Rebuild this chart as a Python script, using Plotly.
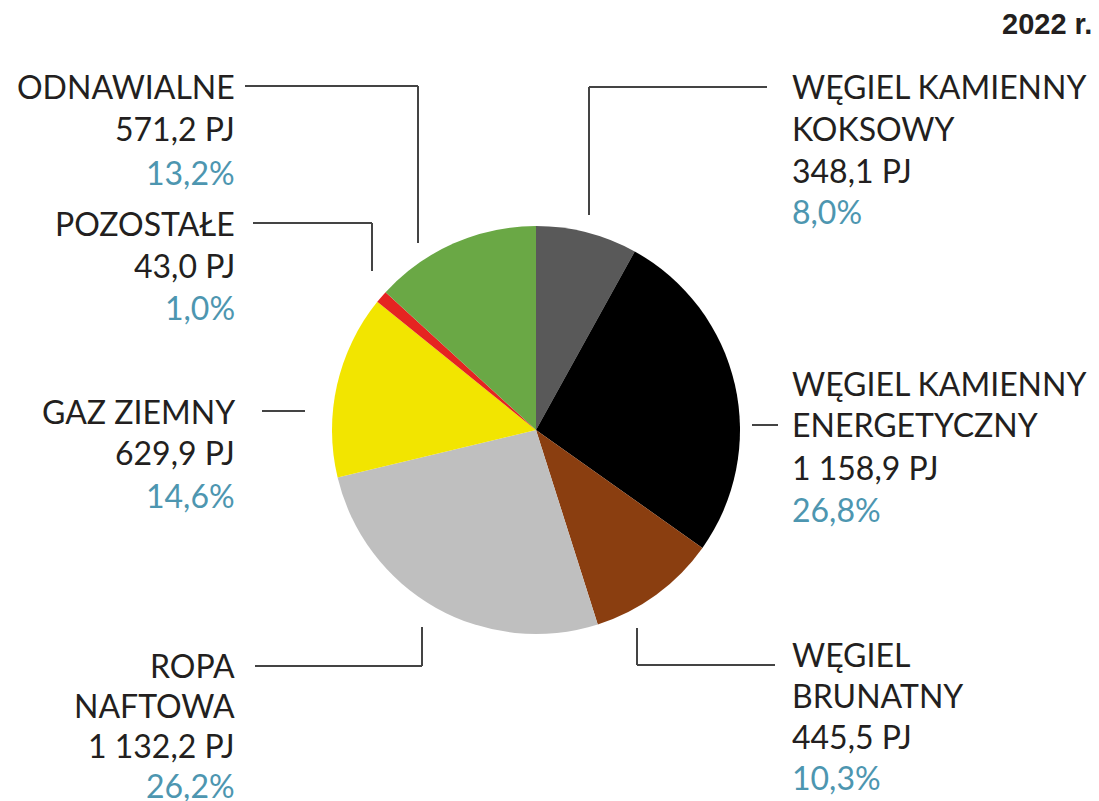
import plotly.graph_objects as go

# --- data (2022) ---
labels = ["WĘGIEL KAMIENNY KOKSOWY", "WĘGIEL KAMIENNY ENERGETYCZNY", "WĘGIEL BRUNATNY",
          "ROPA NAFTOWA", "GAZ ZIEMNY", "POZOSTAŁE", "ODNAWIALNE"]
label_lines = [["WĘGIEL KAMIENNY", "KOKSOWY"], ["WĘGIEL KAMIENNY", "ENERGETYCZNY"],
               ["WĘGIEL", "BRUNATNY"], ["ROPA", "NAFTOWA"], ["GAZ ZIEMNY"],
               ["POZOSTAŁE"], ["ODNAWIALNE"]]
values_pj = [348.1, 1158.9, 445.5, 1132.2, 629.9, 43.0, 571.2]
shares = [8.0, 26.8, 10.3, 26.2, 14.6, 1.0, 13.2]
title_year = "2022 r."

COLORS = ['#595959', '#000000', '#8a3e10', '#bfbfbf', '#f2e500', '#e52421', '#6aa845']
TEXT = '#231f20'
PCT = '#4d96b0'
FONT = "Lato, 'Open Sans', sans-serif"

# page body has an 8px margin, so the figure starts 8px in from the window edge
# and runs to the window's right/bottom edge
OFF = 8
W, H = 1099 - OFF, 801 - OFF


def px_x(x):
    return (x - OFF) / W


def px_y(y):
    return 1 - (y - OFF) / H


def fmt_num(v):
    return f"{v:,.1f}".replace(",", " ").replace(".", ",")


# label block placement (window pixels): anchor x, align, first line y, line step
PLACE = [
    (790, 'left', 86, 42),
    (790, 'left', 383, 42),
    (790, 'left', 654, 41),
    (237, 'right', 665, 40),
    (237, 'right', 411, 42),
    (237, 'right', 223, 42),
    (237, 'right', 86, 43),
]

# leader lines as pixel polylines
LEADERS = [
    [(767, 87), (589, 87), (589, 215)],
    [(752, 425), (778, 425)],
    [(637, 628), (637, 665), (775, 665)],
    [(255, 666), (422, 666), (422, 627)],
    [(262, 411), (305, 411)],
    [(253, 223), (372, 223), (372, 271)],
    [(245, 86), (418, 86), (418, 243)],
]

fig = go.Figure()
fig.add_trace(go.Pie(
    labels=labels,
    values=values_pj,
    sort=False,
    direction='clockwise',
    rotation=0,
    marker=dict(colors=COLORS, line=dict(width=0)),
    textinfo='none',
    hoverinfo='label+value+percent',
    showlegend=False,
    domain=dict(x=[px_x(332), px_x(740)], y=[px_y(634), px_y(226)]),
))

annotations = []
for lines, val, pct, (ax, align, y0, step) in zip(label_lines, values_pj, shares, PLACE):
    rows = [(t, TEXT) for t in lines] + [(f"{fmt_num(val)} PJ", TEXT), (f"{fmt_num(pct)}%", PCT)]
    for i, (t, col) in enumerate(rows):
        annotations.append(dict(
            x=px_x(ax), y=px_y(y0 + i * step), xref='paper', yref='paper',
            text=t, showarrow=False, xanchor=align, yanchor='middle',
            font=dict(family=FONT, size=32, color=col),
        ))

annotations.append(dict(
    x=px_x(1094), y=px_y(24), xref='paper', yref='paper', text=f"<b>{title_year}</b>",
    showarrow=False, xanchor='right', yanchor='middle',
    font=dict(family="'Liberation Sans', Arial, sans-serif", size=29, color=TEXT),
))

shapes = []
for pts in LEADERS:
    for (x0, y0), (x1, y1) in zip(pts[:-1], pts[1:]):
        shapes.append(dict(type='line', xref='paper', yref='paper',
                           x0=px_x(x0), y0=px_y(y0), x1=px_x(x1), y1=px_y(y1),
                           line=dict(color='#444444', width=2)))

fig.update_layout(
    width=W, height=H,
    margin=dict(l=0, r=0, t=0, b=0),
    paper_bgcolor='white', plot_bgcolor='white',
    annotations=annotations, shapes=shapes,
    font=dict(family=FONT, color=TEXT),
)

fig.write_html("out.html")
